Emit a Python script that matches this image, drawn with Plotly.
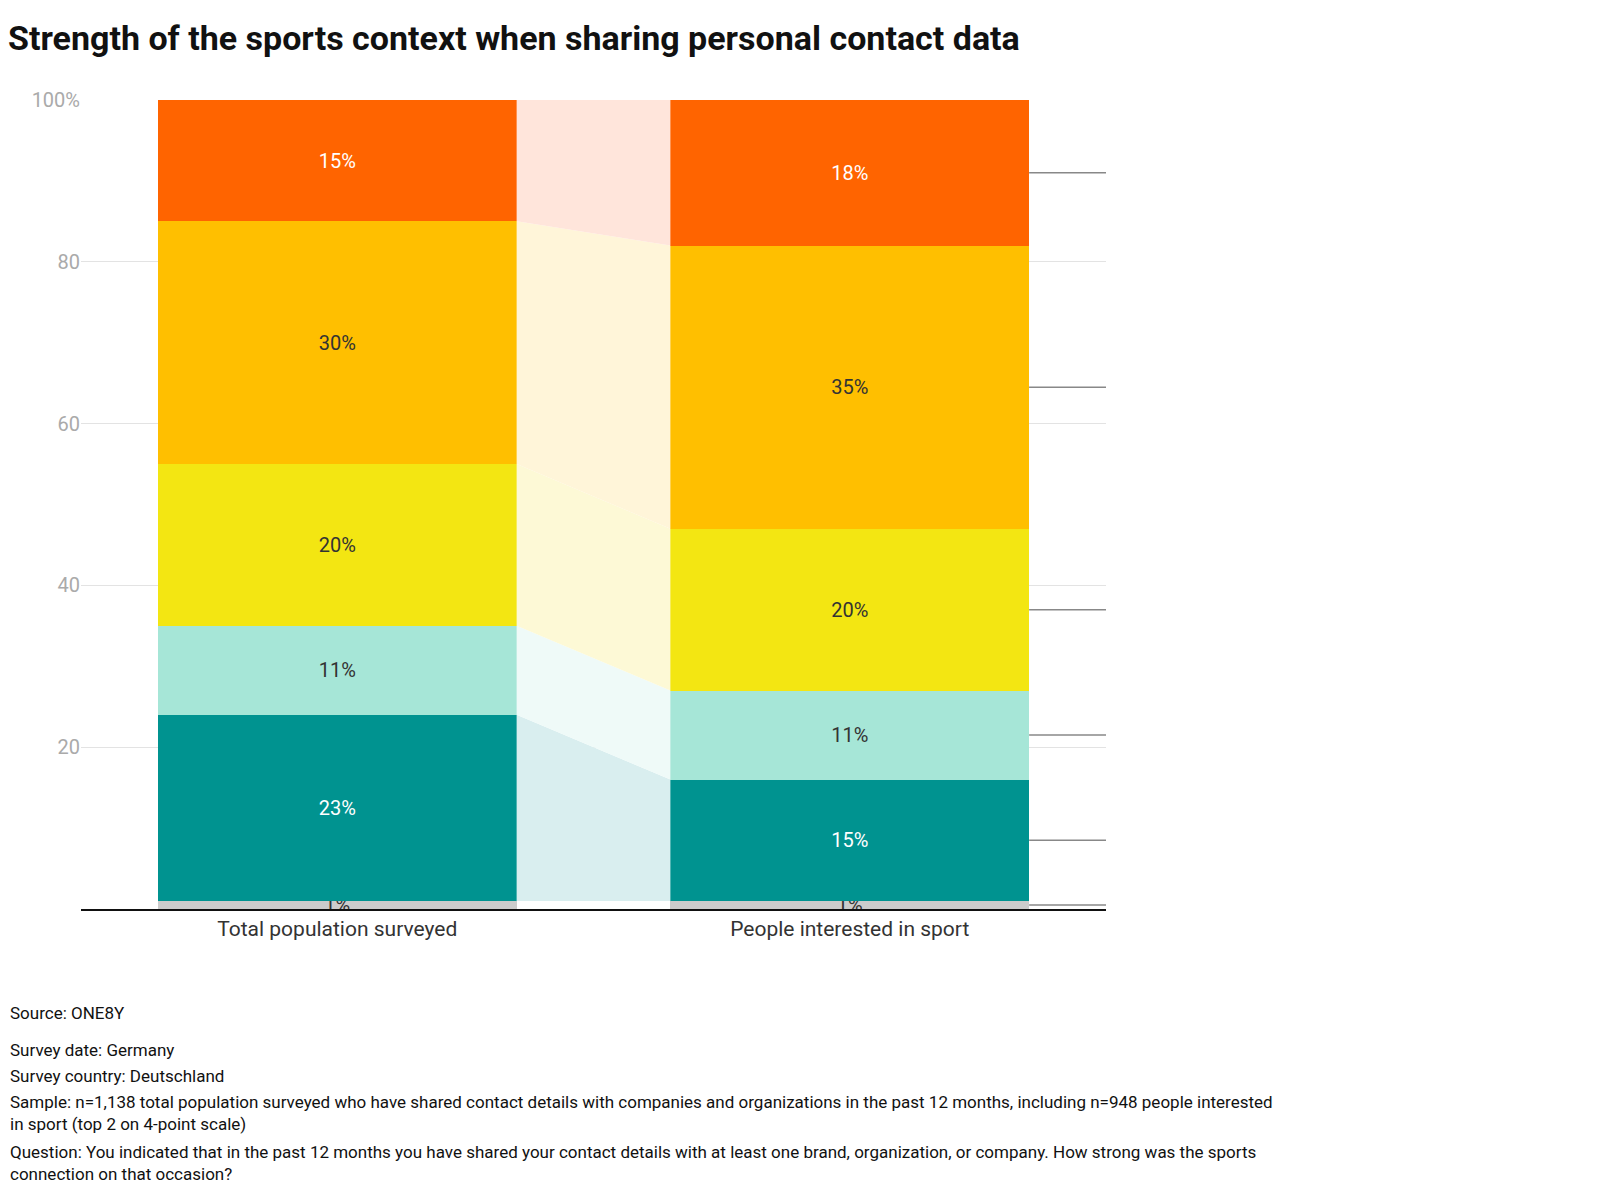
import plotly.graph_objects as go

groups = ["Total population surveyed", "People interested in sport"]
categories = ["Don’t know / No indication", "Not at all", "Rather low", "Moderate", "Rather strong", "Very strong"]
total_values = [1, 23, 11, 20, 30, 15]
sport_values = [1, 15, 11, 20, 35, 18]
bar_colors = ["#cccccc", "#009390", "#a6e6d7", "#f3e612", "#ffbf00", "#ff6400"]
link_colors = ["rgba(0,0,0,0)", "#d9eeef", "#effaf8", "#fdf9d6", "#fff5d9", "#ffe5db"]
text_colors = ["#333333", "white", "#333333", "#333333", "#333333", "white"]

font = "Roboto"
fig = go.Figure()

# connectors between the two bars
cum_a, cum_b = 0, 0
for i, cat in enumerate(categories):
    a0, a1 = cum_a, cum_a + total_values[i]
    b0, b1 = cum_b, cum_b + sport_values[i]
    fig.add_trace(go.Scatter(
        x=[0.35, 0.65, 0.65, 0.35, 0.35], y=[a0, b0, b1, a1, a0],
        fill="toself", fillcolor=link_colors[i], line=dict(width=0),
        mode="lines", hoverinfo="skip", showlegend=False))
    cum_a, cum_b = a1, b1

for i, cat in enumerate(categories):
    fig.add_trace(go.Bar(
        x=[0, 1], y=[total_values[i], sport_values[i]], name=cat, width=0.7,
        marker=dict(color=bar_colors[i], line=dict(width=0)),
        text=[f"{total_values[i]}%", f"{sport_values[i]}%"],
        textposition="inside", insidetextanchor="middle", textangle=0,
        textfont=dict(family=font, size=20, color=text_colors[i]),
        constraintext="none", showlegend=False))

# right-hand labels with leader lines
cum = 0
for i, cat in enumerate(categories):
    mid = cum + sport_values[i] / 2
    cum += sport_values[i]
    fig.add_shape(type="line", xref="x", yref="y", x0=1.35, x1=1.56, y0=mid, y1=mid,
                  line=dict(color="#888888", width=1.5))
    fig.add_annotation(x=1.575, y=mid, xref="x", yref="y", text=cat, showarrow=False,
                       xanchor="left", font=dict(family=font, size=21, color="#111111"))

fig.update_layout(
    width=1600, height=1204, barmode="stack",
    plot_bgcolor="white", paper_bgcolor="white",
    margin=dict(l=73, r=502, t=92, b=303),
    uniformtext=dict(minsize=20, mode="show"),
    title=dict(text="<b>Strength of the sports context when sharing personal contact data</b>",
               x=0, xref="container", xanchor="left", y=0.985, yanchor="top",
               font=dict(family=font, size=34, color="#111111")),
    xaxis=dict(range=[-0.5, 1.5], tickvals=[0, 1], ticktext=groups, showgrid=False,
               zeroline=False, automargin=False,
               tickfont=dict(family=font, size=21, color="#333333"),
               showline=True, linecolor="#111111", linewidth=1.5, ticks=""),
    yaxis=dict(range=[0, 100], tickvals=[0, 20, 40, 60, 80, 100],
               ticktext=["", "20", "40", "60", "80", "100%"],
               gridcolor="#e3e3e3", zeroline=False, automargin=False,
               tickfont=dict(family=font, size=20, color="#aaaaaa")),
)

notes = [
    (993, "Source: ONE8Y"),
    (1030, "Survey date: Germany"),
    (1056, "Survey country: Deutschland"),
    (1082, "Sample: n=1,138 total population surveyed who have shared contact details with companies and organizations in the past 12 months, including n=948 people interested<br>in sport (top 2 on 4-point scale)"),
    (1132, "Question: You indicated that in the past 12 months you have shared your contact details with at least one brand, organization, or company. How strong was the sports<br>connection on that occasion?"),
]
for ypx, txt in notes:
    fig.add_annotation(x=0, xref="paper", xanchor="left", xshift=-73,
                       y=(901 - ypx) / 809, yref="paper", yanchor="top",
                       text=txt, showarrow=False, align="left",
                       font=dict(family=font, size=17, color="#111111"))

fig.write_html("out.html")
